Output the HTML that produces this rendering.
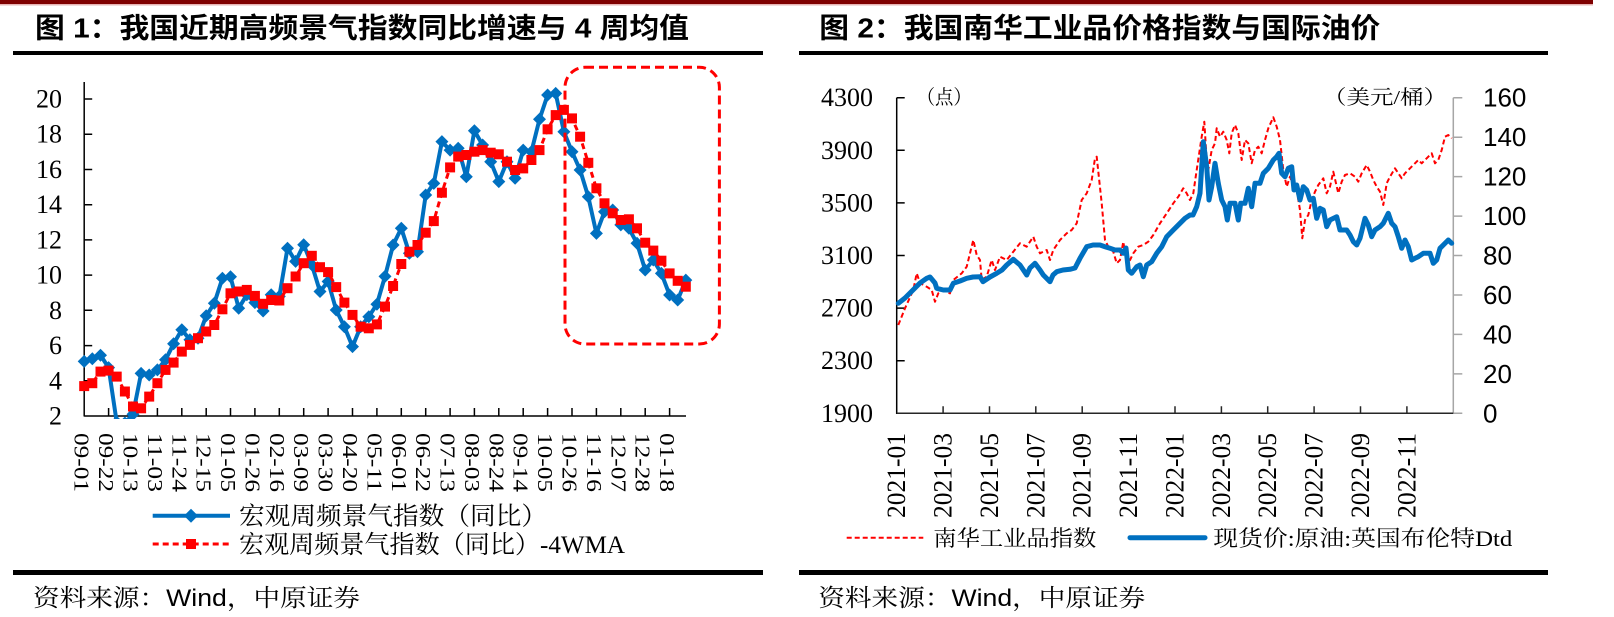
<!DOCTYPE html>
<html>
<head>
<meta charset="utf-8">
<style>
html,body{margin:0;padding:0;background:#fff;}
svg{display:block;}
</style>
</head>
<body>
<svg width="1614" height="617" viewBox="0 0 1614 617" xmlns="http://www.w3.org/2000/svg">
<defs>
<marker id="dia" markerWidth="14" markerHeight="14" refX="7" refY="7" markerUnits="userSpaceOnUse" overflow="visible"><path d="M7 0.5L13.5 7L7 13.5L0.5 7Z" fill="#0070C0" stroke="none"/></marker>
<marker id="sq" markerWidth="10" markerHeight="10" refX="5" refY="5" markerUnits="userSpaceOnUse" overflow="visible"><rect x="0" y="0" width="10" height="10" fill="#FF0000" stroke="none"/></marker>
<clipPath id="c1"><rect x="70" y="60" width="640" height="359"/></clipPath>
</defs>
<rect width="1614" height="617" fill="#fff"/>
<!-- top bar -->
<rect x="0" y="0" width="1593" height="4" fill="#7F0000"/>
<rect x="0" y="4" width="1593" height="1.5" fill="#E6B4B4"/>

<!-- ===== LEFT CHART ===== -->
<text x="35" y="37.5" font-family="'Liberation Sans','Noto Sans CJK SC',sans-serif" font-weight="bold" font-size="28" textLength="654" lengthAdjust="spacingAndGlyphs" fill="#000">图 1：我国近期高频景气指数同比增速与 4 周均值</text>
<rect x="13" y="51" width="750" height="4" fill="#000"/>

<!-- y labels -->
<g font-family="'Liberation Serif',serif" font-size="26" text-anchor="end" dominant-baseline="central" fill="#000">
<text x="62" y="416">2</text>
<text x="62" y="380.8">4</text>
<text x="62" y="345.6">6</text>
<text x="62" y="310.3">8</text>
<text x="62" y="275.1">10</text>
<text x="62" y="239.9">12</text>
<text x="62" y="204.7">14</text>
<text x="62" y="169.5">16</text>
<text x="62" y="134.2">18</text>
<text x="62" y="99">20</text>
</g>
<!-- axes -->
<g stroke="#000" stroke-width="1.5" fill="none">
<line x1="84.2" y1="82" x2="84.2" y2="416.5"/>
<line x1="84.2" y1="416" x2="686" y2="416"/>
<path d="M84.2 380.8h8M84.2 345.6h8M84.2 310.3h8M84.2 275.1h8M84.2 239.9h8M84.2 204.7h8M84.2 169.5h8M84.2 134.2h8M84.2 99h8"/>
<path d="M108.6 416v-8M133 416v-8M157.4 416v-8M181.8 416v-8M206.2 416v-8M230.5 416v-8M254.9 416v-8M279.3 416v-8M303.7 416v-8M328.1 416v-8M352.5 416v-8M376.9 416v-8M401.3 416v-8M425.7 416v-8M450.1 416v-8M474.4 416v-8M498.8 416v-8M523.2 416v-8M547.6 416v-8M572 416v-8M596.4 416v-8M620.8 416v-8M645.2 416v-8M669.6 416v-8"/>
</g>
<!-- x labels -->
<g font-family="'Liberation Serif',serif" font-size="21" dominant-baseline="central" fill="#000">
<text transform="translate(81.7,433) rotate(90)" textLength="59" lengthAdjust="spacingAndGlyphs">09-01</text>
<text transform="translate(106.1,433) rotate(90)" textLength="59" lengthAdjust="spacingAndGlyphs">09-22</text>
<text transform="translate(130.5,433) rotate(90)" textLength="59" lengthAdjust="spacingAndGlyphs">10-13</text>
<text transform="translate(154.9,433) rotate(90)" textLength="59" lengthAdjust="spacingAndGlyphs">11-03</text>
<text transform="translate(179.3,433) rotate(90)" textLength="59" lengthAdjust="spacingAndGlyphs">11-24</text>
<text transform="translate(203.7,433) rotate(90)" textLength="59" lengthAdjust="spacingAndGlyphs">12-15</text>
<text transform="translate(228,433) rotate(90)" textLength="59" lengthAdjust="spacingAndGlyphs">01-05</text>
<text transform="translate(252.4,433) rotate(90)" textLength="59" lengthAdjust="spacingAndGlyphs">01-26</text>
<text transform="translate(276.8,433) rotate(90)" textLength="59" lengthAdjust="spacingAndGlyphs">02-16</text>
<text transform="translate(301.2,433) rotate(90)" textLength="59" lengthAdjust="spacingAndGlyphs">03-09</text>
<text transform="translate(325.6,433) rotate(90)" textLength="59" lengthAdjust="spacingAndGlyphs">03-30</text>
<text transform="translate(350,433) rotate(90)" textLength="59" lengthAdjust="spacingAndGlyphs">04-20</text>
<text transform="translate(374.4,433) rotate(90)" textLength="59" lengthAdjust="spacingAndGlyphs">05-11</text>
<text transform="translate(398.8,433) rotate(90)" textLength="59" lengthAdjust="spacingAndGlyphs">06-01</text>
<text transform="translate(423.2,433) rotate(90)" textLength="59" lengthAdjust="spacingAndGlyphs">06-22</text>
<text transform="translate(447.6,433) rotate(90)" textLength="59" lengthAdjust="spacingAndGlyphs">07-13</text>
<text transform="translate(471.9,433) rotate(90)" textLength="59" lengthAdjust="spacingAndGlyphs">08-03</text>
<text transform="translate(496.3,433) rotate(90)" textLength="59" lengthAdjust="spacingAndGlyphs">08-24</text>
<text transform="translate(520.7,433) rotate(90)" textLength="59" lengthAdjust="spacingAndGlyphs">09-14</text>
<text transform="translate(545.1,433) rotate(90)" textLength="59" lengthAdjust="spacingAndGlyphs">10-05</text>
<text transform="translate(569.5,433) rotate(90)" textLength="59" lengthAdjust="spacingAndGlyphs">10-26</text>
<text transform="translate(593.9,433) rotate(90)" textLength="59" lengthAdjust="spacingAndGlyphs">11-16</text>
<text transform="translate(618.3,433) rotate(90)" textLength="59" lengthAdjust="spacingAndGlyphs">12-07</text>
<text transform="translate(642.7,433) rotate(90)" textLength="59" lengthAdjust="spacingAndGlyphs">12-28</text>
<text transform="translate(667.1,433) rotate(90)" textLength="59" lengthAdjust="spacingAndGlyphs">01-18</text>
</g>
<!-- series -->
<g clip-path="url(#c1)">
<polyline fill="none" stroke="#0070C0" stroke-width="4" stroke-linejoin="round" marker-start="url(#dia)" marker-mid="url(#dia)" marker-end="url(#dia)" points="84.2,361.4 92.3,358.8 100.5,355.2 108.6,367.6 116.7,422.2 124.9,423.0 133.0,414.2 141.1,373.4 149.2,375.0 157.4,369.9 165.5,359.8 173.6,343.8 181.8,329.7 189.9,339.8 198.0,338.2 206.2,315.8 214.3,303.3 222.4,278.3 230.5,276.7 238.7,308.2 246.8,294.8 254.9,302.6 263.1,311.0 271.2,294.8 279.3,296.4 287.5,248.2 295.6,261.4 303.7,244.8 311.8,264.7 320.0,291.5 328.1,281.5 336.2,310.0 344.4,326.7 352.5,346.6 360.6,326.7 368.8,316.7 376.9,304.2 385.0,276.4 393.1,245.0 401.3,228.3 409.4,253.3 417.5,251.7 425.7,195.0 433.8,183.4 441.9,141.6 450.1,150.1 458.2,148.3 466.3,176.7 474.4,130.7 482.6,145.0 490.7,161.7 498.8,181.6 507.0,161.7 515.1,178.3 523.2,150.1 531.4,151.7 539.5,119.3 547.6,95.0 555.7,93.4 563.9,131.8 572.0,151.7 580.1,170.0 588.3,196.8 596.4,233.4 604.5,211.7 612.7,210.0 620.8,224.9 628.9,228.3 637.0,243.3 645.2,270.0 653.3,260.0 661.4,273.4 669.6,295.0 677.7,300.0 685.8,280.1"/>
<polyline fill="none" stroke="#FF0000" stroke-width="3" stroke-dasharray="6 4" marker-start="url(#sq)" marker-mid="url(#sq)" marker-end="url(#sq)" points="84.2,386.1 92.3,383.2 100.5,371.6 108.6,370.6 116.7,376.6 124.9,391.5 133.0,406.5 141.1,408.3 149.2,396.6 157.4,383.2 165.5,369.9 173.6,362.6 181.8,351.6 189.9,344.9 198.0,338.2 206.2,331.5 214.3,325.0 222.4,309.3 230.5,293.3 238.7,291.5 246.8,289.9 254.9,295.9 263.1,303.8 271.2,300.0 279.3,300.5 287.5,288.2 295.6,276.5 303.7,263.2 311.8,255.8 320.0,267.2 328.1,272.1 336.2,287.1 344.4,302.6 352.5,314.9 360.6,326.7 368.8,328.3 376.9,324.4 385.0,306.6 393.1,286.0 401.3,264.0 409.4,251.7 417.5,245.0 425.7,232.7 433.8,221.1 441.9,192.7 450.1,167.4 458.2,156.6 466.3,155.0 474.4,151.7 482.6,150.1 490.7,152.7 498.8,154.3 507.0,161.7 515.1,170.0 523.2,168.4 531.4,160.0 539.5,150.1 547.6,129.3 555.7,115.1 563.9,109.9 572.0,118.4 580.1,136.7 588.3,162.8 596.4,188.3 604.5,203.3 612.7,213.3 620.8,220.0 628.9,219.3 637.0,228.3 645.2,242.7 653.3,250.6 661.4,260.7 669.6,273.4 677.7,280.8 685.8,286.7"/>
</g>
<!-- highlight box -->
<rect x="565" y="67.3" width="154.4" height="276.7" rx="20" ry="20" fill="none" stroke="#FF0000" stroke-width="3" stroke-dasharray="9 5"/>
<!-- legend -->
<line x1="152.7" y1="515.7" x2="230" y2="515.7" stroke="#0070C0" stroke-width="4"/>
<path d="M191 508.7L198 515.7L191 522.7L184 515.7Z" fill="#0070C0"/>
<line x1="152.7" y1="544" x2="230" y2="544" stroke="#FF0000" stroke-width="3" stroke-dasharray="6 4"/>
<rect x="186" y="539" width="10" height="10" fill="#FF0000"/>
<g font-family="'Liberation Serif','Noto Serif CJK SC',serif" font-size="25" fill="#000">
<text x="239" y="524.5" textLength="308" lengthAdjust="spacingAndGlyphs">宏观周频景气指数（同比）</text>
<text x="239" y="552.8" textLength="386" lengthAdjust="spacingAndGlyphs">宏观周频景气指数（同比）-4WMA</text>
</g>
<rect x="13" y="570" width="750" height="5" fill="#000"/>
<text x="33" y="606" font-family="'Noto Serif CJK SC',serif" font-size="24" fill="#000" textLength="327" lengthAdjust="spacingAndGlyphs">资料来源：<tspan font-family="'Liberation Sans',sans-serif">Wind</tspan>，中原证券</text>

<!-- ===== RIGHT CHART ===== -->
<text x="819.3" y="37.5" font-family="'Liberation Sans','Noto Sans CJK SC',sans-serif" font-weight="bold" font-size="28" textLength="561" lengthAdjust="spacingAndGlyphs" fill="#000">图 2：我国南华工业品价格指数与国际油价</text>
<rect x="799" y="51" width="749" height="4" fill="#000"/>

<!-- left y labels -->
<g font-family="'Liberation Serif',serif" font-size="26" text-anchor="end" dominant-baseline="central" fill="#000">
<text x="873" y="97.7">4300</text>
<text x="873" y="150.3">3900</text>
<text x="873" y="202.9">3500</text>
<text x="873" y="255.5">3100</text>
<text x="873" y="308.1">2700</text>
<text x="873" y="360.7">2300</text>
<text x="873" y="413.3">1900</text>
</g>
<!-- right y labels -->
<g font-family="'Liberation Sans',sans-serif" font-size="26" dominant-baseline="central" fill="#000">
<text x="1483" y="97.7">160</text>
<text x="1483" y="137.2">140</text>
<text x="1483" y="176.6">120</text>
<text x="1483" y="216.1">100</text>
<text x="1483" y="255.5">80</text>
<text x="1483" y="295">60</text>
<text x="1483" y="334.4">40</text>
<text x="1483" y="373.9">20</text>
<text x="1483" y="413.3">0</text>
</g>
<g font-family="'Liberation Serif','Noto Serif CJK SC',serif" font-size="20" fill="#000">
<text x="916.7" y="104" textLength="55" lengthAdjust="spacingAndGlyphs">（点）</text>
<text x="1323" y="104" textLength="124" lengthAdjust="spacingAndGlyphs">（美元/桶）</text>
</g>
<!-- axes -->
<g fill="none" stroke-width="1.5">
<line x1="1453.3" y1="97.7" x2="1453.3" y2="413.3" stroke="#A6A6A6"/>
<path d="M1453.3 97.7h9M1453.3 137.2h9M1453.3 176.6h9M1453.3 216.1h9M1453.3 255.5h9M1453.3 295h9M1453.3 334.4h9M1453.3 373.9h9M1453.3 413.3h9" stroke="#A6A6A6"/>
<line x1="896.7" y1="97.7" x2="896.7" y2="414" stroke="#000"/>
<path d="M896.7 97.7h8M896.7 150.3h8M896.7 202.9h8M896.7 255.5h8M896.7 308.1h8M896.7 360.7h8" stroke="#000"/>
<line x1="896.7" y1="413.3" x2="1453.3" y2="413.3" stroke="#262626"/>
<path d="M943.1 413.3v-7M989.5 413.3v-7M1035.8 413.3v-7M1082.2 413.3v-7M1128.6 413.3v-7M1175 413.3v-7M1221.4 413.3v-7M1267.7 413.3v-7M1314.1 413.3v-7M1360.5 413.3v-7M1406.9 413.3v-7" stroke="#262626"/>
</g>
<!-- x labels -->
<g font-family="'Liberation Serif',serif" font-size="26" dominant-baseline="central" fill="#000">
<text transform="translate(896.7,518) rotate(-90)" textLength="85" lengthAdjust="spacingAndGlyphs">2021-01</text>
<text transform="translate(943.1,518) rotate(-90)" textLength="85" lengthAdjust="spacingAndGlyphs">2021-03</text>
<text transform="translate(989.5,518) rotate(-90)" textLength="85" lengthAdjust="spacingAndGlyphs">2021-05</text>
<text transform="translate(1035.8,518) rotate(-90)" textLength="85" lengthAdjust="spacingAndGlyphs">2021-07</text>
<text transform="translate(1082.2,518) rotate(-90)" textLength="85" lengthAdjust="spacingAndGlyphs">2021-09</text>
<text transform="translate(1128.6,518) rotate(-90)" textLength="85" lengthAdjust="spacingAndGlyphs">2021-11</text>
<text transform="translate(1175,518) rotate(-90)" textLength="85" lengthAdjust="spacingAndGlyphs">2022-01</text>
<text transform="translate(1221.4,518) rotate(-90)" textLength="85" lengthAdjust="spacingAndGlyphs">2022-03</text>
<text transform="translate(1267.7,518) rotate(-90)" textLength="85" lengthAdjust="spacingAndGlyphs">2022-05</text>
<text transform="translate(1314.1,518) rotate(-90)" textLength="85" lengthAdjust="spacingAndGlyphs">2022-07</text>
<text transform="translate(1360.5,518) rotate(-90)" textLength="85" lengthAdjust="spacingAndGlyphs">2022-09</text>
<text transform="translate(1406.9,518) rotate(-90)" textLength="85" lengthAdjust="spacingAndGlyphs">2022-11</text>
</g>
<!-- series -->
<polyline fill="none" stroke="#FF0000" stroke-width="2" stroke-dasharray="5 3" stroke-linejoin="round" points="898.3,325 905,308.3 913.3,290 916.7,273.3 920,283 926.7,286.7 931.7,290 935,301.7 938.3,293.3 943.3,290 950,293.3 953.3,280 961.7,273.3 966.7,266.7 973.3,240 976.7,255 980,260 981.7,280 986.7,276.7 991.7,260 995,270 1000,256.7 1006.7,260 1013.3,251.7 1020,243.3 1026.7,246.7 1033.3,236.7 1036.7,246.7 1040,253.3 1046.7,250 1050,260 1053.3,250 1060,240 1066.7,233.3 1071.7,230 1076.7,223.3 1081.7,200 1086.7,193.3 1091.7,180 1095,158.3 1096.7,156.7 1101.7,203.3 1105,240 1108.3,246.7 1113.3,251.7 1116.7,263.3 1120,260 1123.3,241.7 1126.7,263.3 1130,260 1133.3,253.3 1138.3,246.7 1143.3,245 1148.3,241.7 1153.3,235 1160,223.3 1166.7,213.3 1173.3,203.3 1178.3,196.7 1183.3,188.3 1186.7,193.3 1190,200 1193.3,193.3 1196.7,170 1201.7,136.7 1204.3,121.7 1206.7,160 1208.3,170 1211.7,150 1215,143.3 1216.7,128.3 1220,136.7 1223.3,131.7 1226.7,140 1229.3,153.3 1231.7,133.3 1235,125 1238.3,133.3 1241.7,160 1245,140 1248.3,143.3 1251.7,163.3 1255,150 1258.3,146.7 1261.7,153.3 1265,140 1268.3,128.3 1273.3,117.3 1276.7,126.7 1280,140 1283.3,170 1286.7,186.7 1290,176.7 1293.3,186.7 1296.7,190 1300,210 1302.3,238.3 1305,220 1308.3,215 1311.7,200 1315,191.7 1318.3,185 1323.3,178.3 1326.7,193.3 1330,186.7 1333.3,171.7 1338.3,193.3 1341.7,181.7 1345,175 1350,173.3 1355,176.7 1358.3,181.7 1361.7,173.3 1366.7,165 1370,171.7 1373.3,180 1376.7,186.7 1380,191.7 1383.3,205 1386.7,183.3 1390,176.7 1395,168.3 1398.3,173.3 1401.7,178.3 1405,173.3 1410,168.3 1415,163.3 1418.3,160 1421.7,163.3 1425,160 1428.3,156.7 1431.7,153.3 1435,163.3 1438.3,160 1441.7,150 1445,136.7 1448.3,135 1451.7,138.3"/>
<polyline fill="none" stroke="#0070C0" stroke-width="5" stroke-linejoin="round" stroke-linecap="round" points="898.3,303.3 905,298 913,290 920,283 926.7,278.3 930,277 935,283 936.7,288.3 943.3,290 950,290 953.3,283.3 960,281 966.7,278.3 973,277 980,276.7 983,281.7 990,277 996.7,273.3 1002,270 1006.7,265 1013.3,259.3 1020,265 1026.7,275 1030,268 1035,263.3 1040,270 1043.3,275 1050,281.7 1053,275 1056.7,271.7 1063,270 1070,269.3 1075,268 1080,258.3 1086.7,246.7 1093,245 1100,245 1105,246.7 1110,248.3 1115,250 1120,250 1123.3,253.3 1126,248 1128.3,270 1131.7,273.3 1136.7,266.7 1140,265 1143.3,276.7 1146.7,265 1151.7,261.7 1156.7,253.3 1161.7,246.7 1166.7,236.7 1173.3,230 1180,223.3 1185,218.3 1190,215 1193,215 1196.7,206.7 1200,193.3 1203.3,141.7 1206.7,166.7 1209,200 1211.7,186.7 1215,163.3 1218.3,183.3 1221.7,200 1225,206.7 1227.3,220 1230,203.3 1235,203.3 1238.3,220 1240.7,203.3 1245,203.3 1248.3,188.3 1251.7,206.7 1255,183.3 1260,183.3 1263.3,173.3 1268.3,168.3 1273.3,160 1276.7,156.7 1279,153.3 1281.7,173.3 1285,176.7 1288.3,168.3 1291.7,166.7 1294,190 1296.7,185 1300,200 1303.3,186.7 1306.7,190 1310,200 1313.3,198.3 1316.7,218.3 1320,208.3 1323.3,210 1326.7,226.7 1330,220 1336.7,216.7 1340,230 1343.3,230 1346.7,230 1350,235 1353.3,241.7 1356.7,245 1360,238.3 1365,218.3 1368.3,225 1371.7,236.7 1375,230 1380,226.7 1383.3,223.3 1388.3,213.3 1391.7,223.3 1395,226.7 1398.3,236.7 1401.7,248.3 1405,240 1408.3,246.7 1411.7,260 1415,258.3 1418.3,256.7 1423.3,253.3 1430,253.3 1433.3,263.3 1436.7,260 1440,248.3 1443.3,245 1448.3,240 1451.7,243.3"/>
<!-- legend -->
<line x1="846.7" y1="537.7" x2="923.3" y2="537.7" stroke="#FF0000" stroke-width="2" stroke-dasharray="5 3"/>
<line x1="1130" y1="537.7" x2="1205" y2="537.7" stroke="#0070C0" stroke-width="5" stroke-linecap="round"/>
<g font-family="'Liberation Serif','Noto Serif CJK SC',serif" font-size="22" fill="#000">
<text x="933.3" y="546" textLength="163" lengthAdjust="spacingAndGlyphs">南华工业品指数</text>
<text x="1213.3" y="546" textLength="299" lengthAdjust="spacingAndGlyphs">现货价:原油:英国布伦特Dtd</text>
</g>
<rect x="799" y="570" width="749" height="5" fill="#000"/>
<text x="818.3" y="606" font-family="'Noto Serif CJK SC',serif" font-size="24" fill="#000" textLength="327" lengthAdjust="spacingAndGlyphs">资料来源：<tspan font-family="'Liberation Sans',sans-serif">Wind</tspan>，中原证券</text>
</svg>
</body>
</html>
